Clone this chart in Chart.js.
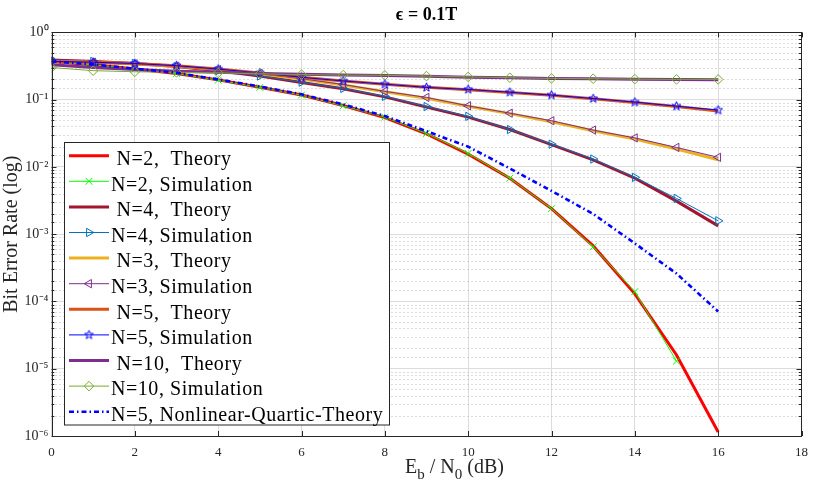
<!DOCTYPE html>
<html><head><meta charset="utf-8">
<script src="https://cdn.jsdelivr.net/npm/chart.js@4.4.1/dist/chart.umd.min.js"></script>
<style>html,body{margin:0;padding:0;background:#fff;}#wrap{width:817px;height:495px;}</style>
</head><body><div id="wrap"><canvas id="c" width="817" height="495"></canvas></div>
<script>
// ---------------- data ----------------
const ebn0 = [0,1,2,3,4,5,6,7,8,9,10,11,12,13,14,15,16];
const xTicks = [0,2,4,6,8,10,12,14,16,18];
const yTickLabels = ['10⁻⁶','10⁻⁵','10⁻⁴','10⁻³','10⁻²','10⁻¹','10⁰'];
const titleText = 'ϵ = 0.1T';
const yTitle = 'Bit Error Rate (log)';

const n2Theory = [0.37,0.33,0.285,0.245,0.197,0.153,0.117,0.082,0.054,0.031,0.0155,0.0068,0.0024,0.00067,0.00013,0.000016,0.00000115];
const n2Sim    = [0.365,0.33,0.285,0.245,0.195,0.152,0.117,0.081,0.055,0.0315,0.0159,0.0068,0.0024,0.00065,0.00014,0.000013];
const n4Theory = [0.39,0.37,0.345,0.31,0.27,0.225,0.18,0.145,0.11,0.078,0.055,0.036,0.0215,0.0127,0.0068,0.0031,0.00133];
const n4Sim    = [0.39,0.37,0.345,0.31,0.27,0.225,0.182,0.147,0.112,0.079,0.0565,0.036,0.0218,0.0131,0.0070,0.0034,0.00158];
const n3Theory = [0.37,0.36,0.34,0.315,0.28,0.243,0.203,0.165,0.131,0.105,0.080,0.062,0.047,0.0345,0.026,0.0185,0.0128];
const n3Sim    = [0.37,0.36,0.34,0.315,0.28,0.245,0.205,0.168,0.133,0.108,0.081,0.063,0.0486,0.0353,0.027,0.0195,0.0139];
const n5Theory = [0.37,0.36,0.345,0.32,0.285,0.25,0.215,0.19,0.17,0.153,0.14,0.128,0.116,0.103,0.091,0.079,0.068];
const n5Sim    = [0.37,0.36,0.345,0.32,0.285,0.25,0.215,0.19,0.17,0.152,0.142,0.129,0.117,0.104,0.092,0.080,0.070];
const n10Theory= [0.33,0.30,0.28,0.265,0.255,0.245,0.238,0.232,0.228,0.222,0.216,0.211,0.207,0.204,0.201,0.199,0.198];
const n10Sim   = [0.30,0.27,0.26,0.255,0.25,0.242,0.236,0.232,0.23,0.224,0.218,0.212,0.207,0.205,0.202,0.20,0.20];
const n5Quartic= [0.37,0.335,0.29,0.25,0.2,0.157,0.12,0.085,0.057,0.034,0.020,0.0095,0.0044,0.0020,0.00073,0.00026,0.000071];

const labels = [' N=2,  Theory','N=2, Simulation',' N=4,  Theory','N=4, Simulation',' N=3,  Theory','N=3, Simulation',
  ' N=5,  Theory','N=5, Simulation',' N=10,  Theory','N=10, Simulation','N=5, Nonlinear-Quartic-Theory'];

// ---------------- helpers ----------------
const FONT = "'Liberation Serif','Times New Roman',serif";
const TXT = '#262626';
function pts(arr){ return arr.map((v,i)=>({x:ebn0[i], y:v})); }
function isPow10(v){ const l=Math.log10(v); return Math.abs(l-Math.round(l))<1e-6; }
function makeStar(color, r){
  const s = Math.ceil(r*2+3), c = document.createElement('canvas'); c.width=s; c.height=s;
  const g = c.getContext('2d'); g.strokeStyle=color; g.lineWidth=1; g.beginPath();
  for(let k=0;k<10;k++){ const rr = k%2 ? r*0.42 : r, a=-Math.PI/2+k*Math.PI/5;
    const px=s/2+rr*Math.cos(a), py=s/2+rr*Math.sin(a); k?g.lineTo(px,py):g.moveTo(px,py); }
  g.closePath(); g.stroke(); return c;
}
const starImg = makeStar('#0000FF', 4.6);

function theory(i, data, color){
  return {label:labels[i], data:pts(data), borderColor:color, backgroundColor:color, borderWidth:3,
    pointRadius:0, fill:false, order:20-i};
}
function sim(i, data, color, style, rot){
  return {label:labels[i], data:pts(data), borderColor:color, backgroundColor:color, borderWidth:1,
    pointStyle:style, pointRotation:rot||0, pointRadius:4.8, pointBorderColor:color, pointBorderWidth:1,
    pointBackgroundColor:'rgba(0,0,0,0)', fill:false, order:20-i};
}
const datasets = [
  theory(0, n2Theory, '#FF0000'),
  sim(1, n2Sim, '#00FF00', 'crossRot'),
  theory(2, n4Theory, '#A2142F'),
  sim(3, n4Sim, '#0072BD', 'triangle', 90),
  theory(4, n3Theory, '#EDB120'),
  sim(5, n3Sim, '#7E2F8E', 'triangle', -90),
  theory(6, n5Theory, '#D95319'),
  sim(7, n5Sim, '#0000FF', starImg),
  theory(8, n10Theory, '#7E2F8E'),
  sim(9, n10Sim, '#77AC30', 'rectRot'),
  {label:labels[10], data:pts(n5Quartic), borderColor:'#0000FF', backgroundColor:'#0000FF', borderWidth:2.6,
   borderDash:[5,3,1.5,3], pointRadius:0, fill:false, order:9}
];

function drawMarker(ctx, ds, x, y){
  const st = ds.pointStyle, r = ds.pointRadius || 0, rot = (ds.pointRotation||0)*Math.PI/180;
  if (!st || !r) return;
  ctx.save(); ctx.translate(x,y); ctx.rotate(rot);
  ctx.strokeStyle = ds.pointBorderColor; ctx.lineWidth = 1; ctx.setLineDash([]);
  if (st instanceof HTMLCanvasElement){ ctx.drawImage(st,-st.width/2,-st.height/2); ctx.restore(); return; }
  ctx.beginPath();
  if (st==='crossRot'){ const d=r*Math.SQRT1_2; ctx.moveTo(-d,-d); ctx.lineTo(d,d); ctx.moveTo(d,-d); ctx.lineTo(-d,d); }
  else if (st==='triangle'){ for(let k=0;k<3;k++){ const a=k*2*Math.PI/3; const px=Math.sin(a)*r, py=-Math.cos(a)*r; k?ctx.lineTo(px,py):ctx.moveTo(px,py);} ctx.closePath(); }
  else if (st==='rectRot'){ ctx.moveTo(0,-r); ctx.lineTo(r,0); ctx.lineTo(0,r); ctx.lineTo(-r,0); ctx.closePath(); }
  ctx.stroke(); ctx.restore();
}

const decor = {
  id:'decor',
  beforeDatasetsDraw(chart){
    const {ctx, chartArea:a, scales:{y}} = chart;
    ctx.save();
    ctx.strokeStyle='#bababa'; ctx.lineWidth=1; ctx.setLineDash([1,3]);
    y.ticks.forEach(t=>{ if(isPow10(t.value)) return;
      const py=Math.round(y.getPixelForValue(t.value))+0.5;
      ctx.beginPath(); ctx.moveTo(a.left,py); ctx.lineTo(a.right,py); ctx.stroke(); });
    ctx.restore();
  },
  afterDatasetsDraw(chart){
    const {ctx, chartArea:a, scales:{x,y}} = chart;
    ctx.save();
    ctx.strokeStyle=TXT; ctx.lineWidth=1; ctx.setLineDash([]);
    ctx.strokeRect(Math.round(a.left)+0.5, Math.round(a.top)+0.5, Math.round(a.right-a.left)-1, Math.round(a.bottom-a.top));
    ctx.beginPath();
    x.ticks.forEach(t=>{ const px=Math.round(x.getPixelForValue(t.value))+0.5;
      ctx.moveTo(px,a.bottom); ctx.lineTo(px,a.bottom-5); ctx.moveTo(px,a.top); ctx.lineTo(px,a.top+5); });
    y.ticks.forEach(t=>{ const py=Math.round(y.getPixelForValue(t.value))+0.5; const L=isPow10(t.value)?5:2.8;
      ctx.moveTo(a.left,py); ctx.lineTo(a.left+L,py); ctx.moveTo(a.right,py); ctx.lineTo(a.right-L,py); });
    ctx.stroke();
    ctx.restore();
  },
  afterDraw(chart){
    const ctx = chart.ctx;
    // legend
    const L={left:64.5, top:142.5, right:389.5, bottom:425};
    ctx.save();
    ctx.fillStyle='#fff'; ctx.fillRect(L.left,L.top,L.right-L.left,L.bottom-L.top);
    ctx.strokeStyle=TXT; ctx.lineWidth=1; ctx.strokeRect(L.left,L.top,L.right-L.left,L.bottom-L.top);
    chart.data.datasets.forEach((ds,i)=>{
      const ly = 155.7 + 25.6*i, by = 165 + 25.6*i;
      ctx.save();
      ctx.strokeStyle=ds.borderColor; ctx.lineWidth=ds.borderWidth; ctx.setLineDash(ds.borderDash||[]);
      ctx.beginPath(); ctx.moveTo(69,ly); ctx.lineTo(109,ly); ctx.stroke(); ctx.restore();
      drawMarker(ctx, ds, 89, ly);
      ctx.save();
      ctx.fillStyle='#000'; ctx.font='20px '+FONT; ctx.textBaseline='alphabetic'; ctx.textAlign='left';
      if ('letterSpacing' in ctx) ctx.letterSpacing='0.55px';
      ctx.fillText(ds.label, 111, by);
      ctx.restore();
    });
    // x-axis label  E_b / N_0 (dB)
    let cx = 405; const base = 473;
    const part = (t, size, dy) => { ctx.font=size+'px '+FONT; ctx.fillText(t, cx, base+dy); cx += ctx.measureText(t).width; };
    ctx.fillStyle=TXT;
    part('E',20,0); part('b',15,6); part(' / N',20,0); part('0',15,6); part(' (dB)',20,0);
    ctx.restore();
  }
};

new Chart(document.getElementById('c'), {
  type:'line',
  data:{datasets},
  plugins:[decor],
  options:{
    responsive:false, animation:false, events:[],
    layout:{padding:{left:0,right:11,top:0,bottom:0}},
    plugins:{
      legend:{display:false}, tooltip:{enabled:false},
      title:{display:true, text:titleText, fullSize:false, color:'#000',
        font:{family:FONT, size:18, weight:'bold'}, padding:{top:5,bottom:5.8}}
    },
    scales:{
      x:{type:'linear', min:0, max:18,
        afterBuildTicks: s => { s.ticks = xTicks.map(v=>({value:v})); },
        afterFit: s => { s.height = 59; },
        grid:{color:'#dcdcdc', lineWidth:1, drawTicks:false},
        border:{display:false},
        ticks:{color:TXT, font:{family:FONT, size:13}, padding:9, maxRotation:0, autoSkip:false,
          callback:v=>String(v)}
      },
      y:{type:'logarithmic', min:1e-6, max:1,
        afterFit: s => { s.width = 51.5; },
        grid:{color: c => (c.tick && isPow10(c.tick.value)) ? '#dcdcdc' : 'rgba(0,0,0,0)', lineWidth:1, drawTicks:false},
        border:{display:false},
        title:{display:true, text:yTitle, color:TXT, font:{family:FONT, size:20}, padding:{top:0,bottom:0}},
        ticks:{color:TXT, font:{family:FONT, size:14}, padding:3, autoSkip:false,
          callback:v=>{ if(!isPow10(v)) return ''; const e=Math.round(Math.log10(v)); return yTickLabels[e+6]; }}
      }
    }
  }
});
</script>
</body></html>
